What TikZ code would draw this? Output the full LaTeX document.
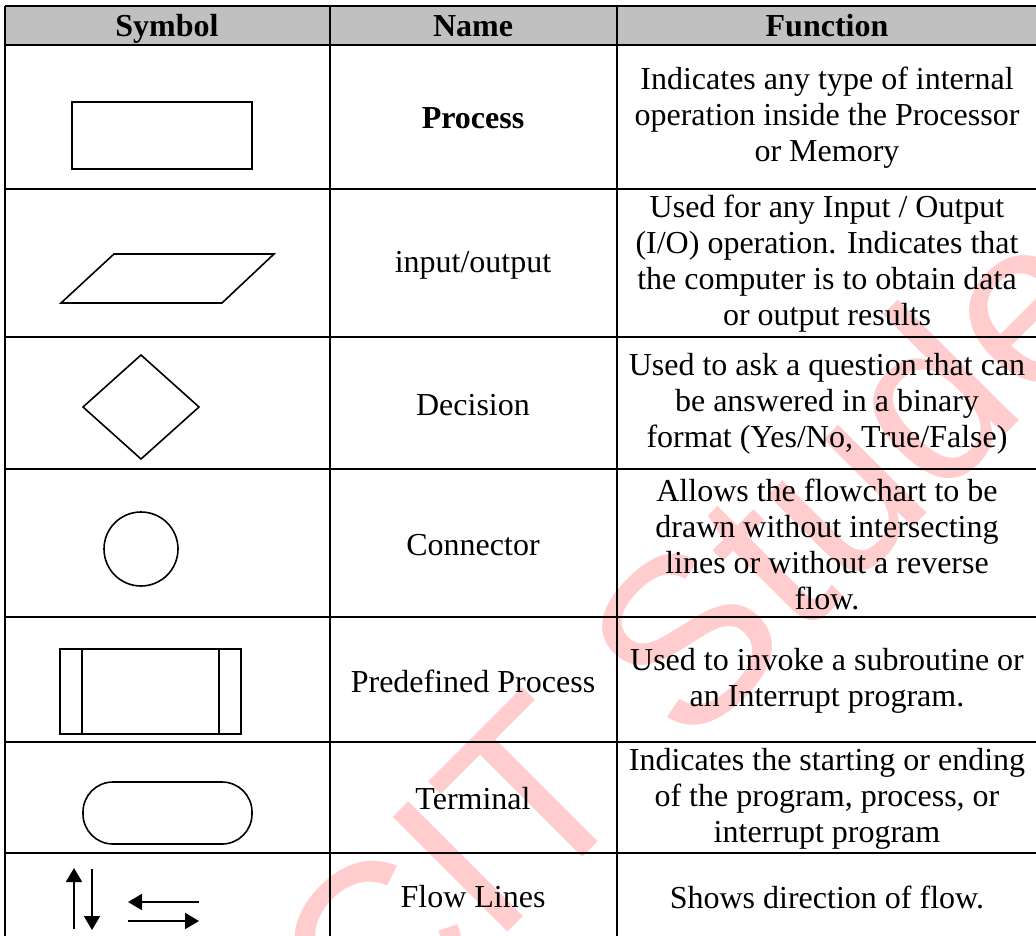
\documentclass[tikz,border=0pt]{standalone}
\usepackage{fontspec}
\setmainfont{Liberation Serif}
\newfontfamily\markfont{Liberation Sans}
\usetikzlibrary{arrows.meta}
\definecolor{headgray}{RGB}{192,192,192}
\definecolor{markred}{RGB}{255,205,205}

\begin{document}
\begin{tikzpicture}[x=0.5pt, y=-0.5pt,
	cell/.style={align=center, inner sep=0pt, font=\fontsize{16}{18}\selectfont},
	head/.style={cell, text height=11pt, text depth=3.5pt, font=\fontsize{16}{18}\selectfont\bfseries},
	sym/.style={line width=0.8pt},
	grid/.style={line width=1.2pt},
	flow/.style={line width=1pt, -{Triangle[length=7pt, width=8pt]}}]
	\useasboundingbox (0,0) rectangle (1036,935);
	\clip (0,0) rectangle (1036,935);

	\node[rotate=45, anchor=base west, inner sep=0pt, text=markred, font=\markfont\fontsize{118}{118}\selectfont] (mark) at (372,1068) {CIT Students};

	\fill[headgray] (5,6) rectangle (1040,45);
	\foreach \y in {6,45,189,337,469,617,742,853}
		\draw[grid] (5,\y) -- (1040,\y);
	\foreach \x in {5,330,617}
		\draw[grid] (\x,6) -- (\x,940);

	\node[head] (symbol)   at (167,29)  {Symbol};
	\node[head] (name)     at (473,29)  {Name};
	\node[head] (function) at (827,29)  {Function};

	\node[cell, font=\fontsize{16}{18}\selectfont\bfseries] (process) at (473,118) {Process};
	\node[cell] (io)         at (473,265) {input/output};
	\node[cell] (decision)   at (473,405) {Decision};
	\node[cell] (connector)  at (473,545) {Connector};
	\node[cell] (predefined) at (473,681) {Predefined Process};
	\node[cell] (terminal)   at (473,799) {Terminal};
	\node[cell] (flowlines)  at (473,897) {Flow Lines};

	\node[cell] (processfn)    at (827,118) {Indicates any type of internal\\operation inside the Processor\\or Memory};
	\node[cell] (iofn)         at (827,264) {Used for any Input / Output\\(I/O) operation. Indicates that\\the computer is to obtain data\\or output results};
	\node[cell] (decisionfn)   at (827,404) {Used to ask a question that can\\be answered in a binary\\format (Yes/No, True/False)};
	\node[cell] (connectorfn)  at (827,544) {Allows the flowchart to be\\drawn without intersecting\\lines or without a reverse\\flow.};
	\node[cell] (predefinedfn) at (827,681) {Used to invoke a subroutine or\\an Interrupt program.};
	\node[cell] (terminalfn)   at (827,799) {Indicates the starting or ending\\of the program, process, or\\interrupt program};
	\node[cell] (flowlinesfn)  at (827,897) {Shows direction of flow.};

	\draw[sym] (72,102) rectangle (252,169);
	\draw[sym] (61,303) -- (114,254) -- (274,254) -- (222,303) -- cycle;
	\draw[sym] (141,355) -- (199,407) -- (141,459) -- (83,407) -- cycle;
	\draw[sym] (141,549) circle (18.5pt);
	\draw[sym] (60,649) rectangle (241,734);
	\draw[sym] (82,649) -- (82,734);
	\draw[sym] (219,649) -- (219,734);
	\draw[sym, rounded corners=15pt] (83,782) rectangle (252,844);

	\coordinate (up0)    at (74,929);
	\coordinate (up1)    at (74,868);
	\coordinate (down0)  at (92,869);
	\coordinate (down1)  at (92,930);
	\coordinate (left0)  at (199,902);
	\coordinate (left1)  at (128,902);
	\coordinate (right0) at (128,921);
	\coordinate (right1) at (199,921);
	\draw[flow] (up0)    -- (up1);
	\draw[flow] (down0)  -- (down1);
	\draw[flow] (left0)  -- (left1);
	\draw[flow] (right0) -- (right1);
\end{tikzpicture}
\end{document}
